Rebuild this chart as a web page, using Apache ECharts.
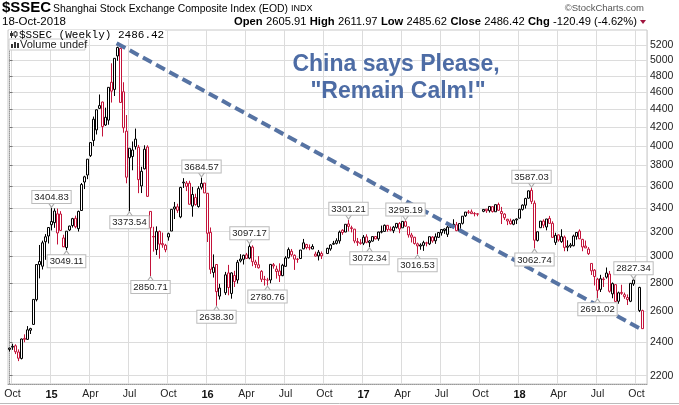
<!DOCTYPE html>
<html><head><meta charset="utf-8">
<script src="https://cdn.jsdelivr.net/npm/echarts@6/dist/echarts.min.js"></script>
<style>html,body{margin:0;padding:0;background:#fff}#c{width:679px;height:405px}</style>
</head><body><div id="c"></div><script>
// Weekly bars, first bar = week ending Friday 2014-10-03. Each row: [open, high, low, close]; null = market closed all week
const firstWeekEnding = '2014-10-03';
const w2014 = [
 [2356,2366,2343,2363.87],[2370,2391,2353,2374.54],[2378,2387,2327,2341.18],[2340,2356,2285,2302.28],
 [2301,2423,2295,2420.18],[2424,2450,2400,2418.17],[2418,2503,2415,2478.82],[2476,2492,2452,2486.79],
 [2514,2683,2512,2682.84],[2681,2938,2669,2937.65],[2961,3091,2834,2938.17],[2925,3126,2900,3108.60],
 [3117,3180,2974,3157.60],[3164,3239,3103,3234.68]
];
const w2015 = [
 [3258,3404.83,3210,3285.41],[3276,3400,3232,3376.50],[3189,3398,3095,3351.76],[3350,3375,3208,3210.36],
 [3148,3174,3080,3075.91],[3070,3204,3049.11,3203.83],[3214,3250,3205,3246.91],[3251,3317,3234,3310.30],
 [3313,3336,3228,3241.19],[3225,3380,3201,3372.91],[3381,3632,3381,3617.32],[3641,3701,3575,3691.10],
 [3708,3866,3668,3863.93],[3900,4040,3886,4034.31],[4057,4317,3998,4287.30],[4170,4398,4120,4393.69],
 [4410,4572,4405,4441.66],[4483,4488,4099,4205.92],[4223,4418,4213,4308.69],[4277,4658,4226,4657.60],
 [4720,4958,4477,4611.74],[4633,5023,4554,5023.10],[5054,5178.19,4991,5166.35],[5154,5164,4478,4478.36],
 [4604,4720,4139,4192.87],[4156,4334,3629,3686.92],[3975,3975,3373.54,3877.80],[3891,4046,3754,3957.35],
 [3992,4184,3962,4070.91],[3985,4010,3537,3663.73],[3604,3788,3538,3744.20],[3768,4006,3762,3965.33],
 [3988,4006,3502,3507.74],[3373,3373,2850.71,3232.35],[3156,3241,3038,3160.17],[3054,3244,3012,3200.23],
 [3202,3209,2983,3097.92],[3102,3192,3069,3092.35],[3089,3100,3033,3052.78],[3156,3192,3126,3183.15],
 [3205,3393,3205,3391.35],[3395,3457,3307,3412.43],[3414,3441,3360,3382.56],[3325,3596,3314,3590.03],
 [3640,3678,3585,3632.90],[3600,3650,3556,3630.50],[3630,3653,3434,3436.30],[3420,3595,3327,3524.99],
 [3497,3532,3424,3434.58],[3416,3601,3406,3578.96],[3592,3684.57,3571,3627.91],[3631,3631,3538,3539.18]
];
const w2016 = [
 [3536,3538,3115,3186.41],[3194,3235,2867,2900.97],[2878,3016,2840,2916.56],[2938,2938,2638.30,2737.60],
 [2706,2794,2682,2763.49],null,[2730,2882,2714,2860.02],[2874,2935,2712,2767.21],
 [2725,2879,2688,2874.15],[2855,2890,2771,2810.31],[2822,2973,2796,2955.15],[2965,3018,2954,2979.43],
 [2978,3014,2938,3009.53],[3013,3028,2984,2984.96],[2987,3097.17,2978,3078.12],[3074,3088,2925,2959.24],
 [2957,2974,2912,2938.32],[2936,3003,2907,2913.25],[2886,2895,2807,2827.11],[2827,2852,2781,2825.48],
 [2821,2838,2780.76,2821.05],[2822,2938,2798,2938.68],[2936,2949,2906,2927.16],[2903,2929,2832,2885.11],
 [2889,2947,2807,2854.29],[2854,2943,2850,2932.48],[2924,3002,2919,2988.09],[2990,3071,2983,3054.30],
 [3041,3059,2999,3012.82],[3009,3016,2897,2979.34],[2979,2989,2951,2976.70],[2984,3050,2980,3050.67],
 [3060,3140,3057,3108.10],[3095,3100,3056,3070.31],[3070,3095,3049,3067.35],[3059,3097,3058,3078.85],
 [3019,3038,2999,3002.85],[3004,3051,2969,3033.90],[3023,3039,2980,3004.70],null,
 [3023,3069,3019,3063.81],[3059,3097,3045,3090.94],[3097,3124,3092,3104.27],[3104,3145,3095,3125.32],
 [3124,3209,3102,3196.04],[3212,3220,3174,3192.86],[3197,3263,3196,3261.94],[3265,3301.21,3201,3243.84],
 [3226,3250,3194,3232.88],[3221,3223,3105,3122.98],[3119,3148,3084,3110.15],[3109,3138,3093,3103.64]
];
const w2017 = [
 [3105,3172,3090,3154.32],[3157,3178,3105,3112.76],[3110,3131,3072.34,3123.14],[3122,3160,3118,3159.17],
 [3160,3160,3137,3140.17],[3141,3199,3125,3196.70],[3196,3251,3186,3202.08],[3202,3260,3200,3253.43],
 [3253,3255,3200,3218.31],[3220,3243,3203,3212.76],[3208,3248,3188,3237.45],[3236,3271,3226,3269.45],
 [3268,3281,3187,3222.51],[3232,3287,3232,3286.62],[3284,3295.19,3241,3246.07],[3240,3243,3151,3173.15],
 [3172,3190,3111,3154.66],[3154,3157,3094,3103.04],[3100,3110,3016.53,3083.51],[3082,3104,3053,3090.63],
 [3088,3125,3044,3110.06],[3108,3117,3080,3105.54],[3100,3158,3090,3158.40],[3155,3163,3109,3123.17],
 [3125,3185,3100,3157.87],[3153,3194,3148,3192.43],[3190,3217,3167,3217.96],[3210,3226,3182,3222.42],
 [3178,3249,3156,3237.98],[3237,3255,3230,3253.24],[3254,3305,3245,3262.08],[3258,3282,3204,3208.54],
 [3206,3273,3203,3268.43],[3270,3332,3260,3331.52],[3335,3367,3325,3367.12],[3368,3385,3351,3365.24],
 [3369,3390,3354,3353.62],[3355,3367,3330,3352.53],[3352,3358,3331,3348.94],null,
 [3374,3391,3366,3390.52],[3393,3394,3360,3378.65],[3379,3419,3363,3416.81],[3415,3417,3363,3371.74],
 [3370,3433,3370,3432.67],[3434,3451,3377,3382.91],[3372,3413,3264,3353.82],[3350,3357,3299,3317.62],
 [3305,3308,3255,3289.99],[3290,3310,3260,3266.14],[3262,3303,3254,3297.06],[3299,3312,3264,3307.17]
];
const w2018 = [
 [3314,3395,3314,3391.75],[3391,3435,3380,3428.94],[3428,3495,3398,3487.86],[3491,3562,3486,3558.13],
 [3563,3587.03,3438,3462.08],[3446,3470,3062.74,3129.85],[3128,3200,3119,3199.16],[3233,3290,3233,3289.02],
 [3289,3304,3230,3254.53],[3239,3308,3211,3307.17],[3312,3334,3269,3269.88],[3270,3287,3152,3152.76],
 [3112,3191,3091,3168.90],[3173,3178,3118,3131.11],[3118,3220,3108,3159.05],[3155,3168,3041,3071.54],
 [3073,3129,3041,3082.23],[3082,3107,3068,3091.03],[3085,3175,3080,3163.26],[3161,3193,3134,3193.30],
 [3205,3219,3139,3141.30],[3136,3141,3041,3075.14],[3082,3127,3068,3067.15],[3058,3074,3012,3021.90],
 [2946,2946,2859,2889.76],[2895,2903,2782,2847.42],[2828,2838,2691.02,2747.23],[2754,2860,2735,2831.18],
 [2825,2843,2771,2829.27],[2843,2915,2832,2873.59],[2866,2889,2731,2740.44],[2722,2804,2691,2795.31],
 [2788,2790,2665,2668.97],[2670,2738,2653,2729.43],[2732,2787,2715,2725.25],[2716,2731,2687,2702.30],
 [2696,2718,2644,2681.64],[2670,2799,2664,2797.49],[2793,2827.34,2779,2821.35],null,
 [2768,2772,2596,2606.91],[2605.91,2611.97,2485.62,2486.42]
];
// labelled swing points: [week index, value, 'H' above / 'L' below]
const callouts = [
 [14,3404.83,'H'],[19,3049.11,'L'],[40,3373.54,'L'],[47,2850.71,'L'],[64,3684.57,'H'],[69,2638.30,'L'],
 [80,3097.17,'H'],[86,2780.76,'L'],[113,3301.21,'H'],[120,3072.34,'L'],[132,3295.19,'H'],[136,3016.53,'L'],
 [174,3587.03,'H'],[175,3062.74,'L'],[196,2691.02,'L'],[208,2827.34,'H']
];
const blackWeeks = [210]; // bars drawn black in the original despite lower close
const yTicks = [2200,2400,2600,2800,3000,3200,3400,3600,3800,4000,4200,4400,4600,4800,5000,5200];
const yRange = [2153, 5407];
const monthNames = {3:'Apr',6:'Jul',9:'Oct'};
// trend line (week index, price)
const trendStart = [35.7, 5225];
const trendEnd = [211.1, 2477];

const LG = Math.log10;
const FONT = '"Liberation Sans", Arial, sans-serif';
const RED = '#c4133a';
const weeks = [].concat(w2014, w2015, w2016, w2017, w2018);
const cats = [];
const d0 = Date.parse(firstWeekEnding + 'T00:00:00Z');
for (let i = 0; i <= weeks.length; i++) cats.push(new Date(d0 + i * 7 * 864e5).toISOString().slice(0, 10));
function monMonth(i){ return new Date(Date.parse(cats[i] + 'T00:00:00Z') - 4 * 864e5).getUTCMonth(); }
function isQStart(i){ if (i <= 0 || i >= cats.length) return false; const m = monMonth(i); return m % 3 === 0 && monMonth(i-1) !== m; }

let prevClose = null;
const candleData = weeks.map((w, i) => {
  if (!w) return '-';
  const ref = prevClose == null ? w[0] : prevClose;
  let c = w[3] >= ref ? '#000' : RED;
  if (blackWeeks.includes(i)) c = '#000';
  prevClose = w[3];
  return { value: [LG(w[0]), LG(w[3]), LG(w[2]), LG(w[1])],
    itemStyle: { color: '#fff', color0: c, borderColor: c, borderColor0: c, borderWidth: 1 } };
});

const markData = callouts.map(([i, v, s]) => ({
  coord: [cats[i], LG(v)],
  symbol: 'triangle', symbolSize: [7, 5], symbolRotate: s === 'H' ? 180 : 0,
  symbolOffset: [0, s === 'H' ? -3 : 3],
  itemStyle: { color: '#fff', borderColor: '#aaa', borderWidth: 1 },
  label: { show: true, position: s === 'H' ? 'top' : 'bottom', distance: -1,
    formatter: v.toFixed(2), backgroundColor: '#fff', borderColor: '#bbb', borderWidth: 1,
    padding: [1, 2, 0, 2], fontSize: 9.5, lineHeight: 11, color: '#222', fontFamily: FONT }
}));

const chart = echarts.init(document.getElementById('c'), null, { renderer: 'canvas' });
chart.setOption({
  animation: false,
  grid: { left: 8, top: 30, right: 32, bottom: 21, show: true, borderColor: '#c8c8c8', borderWidth: 1 },
  xAxis: [{
    type: 'category', data: cats, boundaryGap: true,
    axisLine: { show: true, lineStyle: { color: '#999', type: 'dotted' } },
    axisTick: { show: false },
    axisLabel: { interval: (i) => isQStart(i), margin: 5, fontSize: 10.5, color: '#222', fontFamily: FONT,
      formatter: (v, i) => { const m = monMonth(i); return m === 0 ? '{y|' + v.slice(2, 4) + '}' : monthNames[m]; },
      rich: { y: { fontWeight: 'bold', fontSize: 11, fontFamily: FONT, color: '#111' } } },
    splitLine: { show: true, interval: (i) => isQStart(i), lineStyle: { color: '#dcdcdc', width: 1 } }
  }, {
    type: 'value', min: -0.5, max: cats.length - 0.5, show: false
  }],
  yAxis: [{
    type: 'value', position: 'right', min: LG(yRange[0]), max: LG(yRange[1]), scale: true,
    axisLine: { show: true, lineStyle: { color: '#999', type: 'dotted' } },
    axisTick: { show: true, length: 3, customValues: yTicks.map(LG), lineStyle: { color: '#777' } },
    axisLabel: { customValues: yTicks.map(LG), formatter: (v) => String(Math.round(Math.pow(10, v))),
      margin: 3, fontSize: 10.5, color: '#222', fontFamily: FONT },
    splitLine: { show: true, lineStyle: { color: '#dcdcdc', width: 1 } }
  }],
  series: [{
    type: 'candlestick', xAxisIndex: 0, yAxisIndex: 0, barWidth: 2.6, data: candleData,
    markPoint: { silent: true, data: markData }
  }, {
    type: 'line', xAxisIndex: 1, yAxisIndex: 0, z: 5, silent: true, showSymbol: false,
    data: [[trendStart[0], LG(trendStart[1])], [trendEnd[0], LG(trendEnd[1])]],
    lineStyle: { opacity: 0 },
    markLine: { silent: true, symbol: ['none', 'arrow'], symbolSize: [0, 13], label: { show: false },
      lineStyle: { color: '#5673a3', width: 4, type: [10, 5], cap: 'butt' },
      data: [[{ coord: [trendStart[0], LG(trendStart[1])] }, { coord: [trendEnd[0], LG(trendEnd[1])] }]] }
  }],
  graphic: [
    { type: 'text', x: 2, y: 8, style: { text: '$SSEC', font: 'bold 15px ' + FONT, fill: '#000', verticalAlign: 'middle' } },
    { type: 'text', x: 53, y: 9, style: { text: 'Shanghai Stock Exchange Composite Index (EOD)', font: '10.4px ' + FONT, fill: '#000', verticalAlign: 'middle' } },
    { type: 'text', x: 291, y: 9, style: { text: 'INDX', font: '9px ' + FONT, fill: '#000', verticalAlign: 'middle' } },
    { type: 'text', x: 2, y: 22, style: { text: '18-Oct-2018', font: '11.5px ' + FONT, fill: '#000', verticalAlign: 'middle' } },
    { type: 'text', x: 644, y: 8, style: { text: '\u00a9StockCharts.com', font: '9.5px ' + FONT, fill: '#555', align: 'right', verticalAlign: 'middle' } },
    { type: 'text', x: 637, y: 22, style: {
      text: '{b|Open} {n|2605.91} {b|High} {n|2611.97} {b|Low} {n|2485.62} {b|Close} {n|2486.42} {b|Chg} {n|-120.49 (-4.62%)}',
      align: 'right', verticalAlign: 'middle',
      rich: { b: { fontWeight: 'bold', fontSize: 11.2, fontFamily: FONT, fill: '#000', color: '#000' },
              n: { fontSize: 11.2, fontFamily: FONT, fill: '#000', color: '#000' } } } },
    { type: 'polygon', shape: { points: [[640, 20], [646, 20], [643, 24]] }, style: { fill: '#a0153e' } },
    { type: 'rect', z: 100, shape: { x: 9, y: 30, width: 156, height: 9 }, style: { fill: '#fff', stroke: null } },
    { type: 'rect', z: 100, shape: { x: 9, y: 39, width: 76, height: 11 }, style: { fill: '#fff', stroke: '#ccc', lineWidth: 1 } },
    { type: 'rect', z: 101, shape: { x: 11, y: 31, width: 1, height: 7 }, style: { fill: '#333' } },
    { type: 'rect', z: 101, shape: { x: 10, y: 33, width: 3, height: 3 }, style: { fill: '#333' } },
    { type: 'rect', z: 101, shape: { x: 15, y: 31, width: 1, height: 7 }, style: { fill: '#333' } },
    { type: 'rect', z: 101, shape: { x: 14, y: 32, width: 3, height: 4 }, style: { fill: '#fff', stroke: '#333', lineWidth: 1 } },
    { type: 'text', z: 101, x: 19, y: 35, style: { text: '$SSEC (Weekly) 2486.42', font: '11px "Liberation Mono", "DejaVu Sans Mono", monospace', fill: '#000', verticalAlign: 'middle' } },
    { type: 'rect', z: 101, shape: { x: 11, y: 44, width: 2, height: 4 }, style: { fill: '#333' } },
    { type: 'rect', z: 101, shape: { x: 14, y: 42, width: 2, height: 6 }, style: { fill: '#333' } },
    { type: 'rect', z: 101, shape: { x: 17, y: 43, width: 2, height: 5 }, style: { fill: '#333' } },
    { type: 'text', z: 101, x: 20, y: 45, style: { text: 'Volume undef', font: '11px ' + FONT, fill: '#222', verticalAlign: 'middle' } },
    { type: 'text', z: 50, x: 396, y: 65, style: { text: 'China says Please,', font: 'bold 23px ' + FONT, fill: '#4d6ca5', align: 'center', verticalAlign: 'middle' } },
    { type: 'text', z: 50, x: 398, y: 92, style: { text: '"Remain Calm!"', font: 'bold 23px ' + FONT, fill: '#4d6ca5', align: 'center', verticalAlign: 'middle' } },
    { type: 'line', shape: { x1: 0, y1: 403.5, x2: 679, y2: 403.5 }, style: { stroke: '#bbb', lineWidth: 1 } }
  ]
});
</script></body></html>
